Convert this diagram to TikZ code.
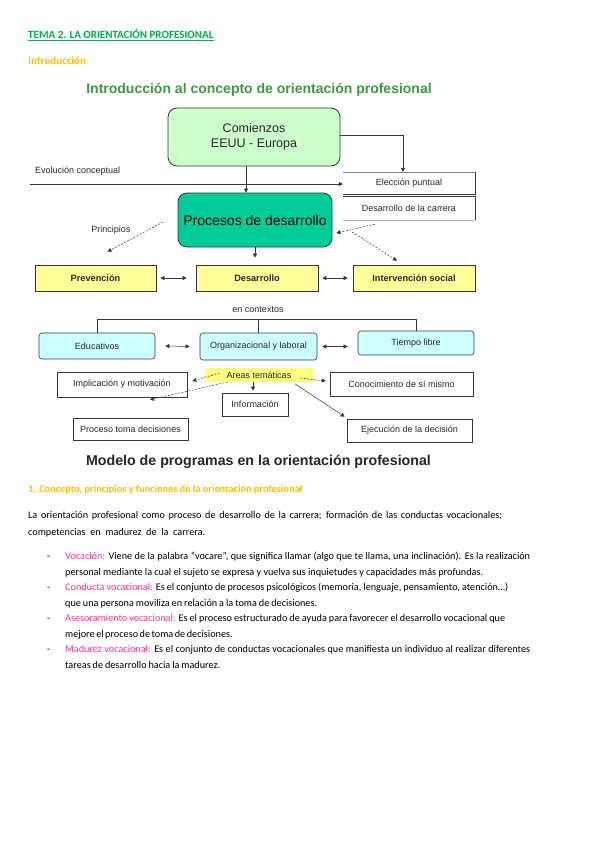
\documentclass[tikz,border=0pt]{standalone}
\usepackage{fontspec}
\setmainfont{Carlito}
\newfontfamily\arialf{Liberation Sans}
\usetikzlibrary{arrows.meta}
\definecolor{wgreen}{RGB}{0,176,80}
\definecolor{worange}{RGB}{255,192,0}
\definecolor{wpink}{RGB}{255,51,153}
\definecolor{dtitle}{RGB}{60,155,60}
\definecolor{lgreen}{RGB}{204,255,204}
\definecolor{procfill}{RGB}{0,204,153}
\definecolor{lyellow}{RGB}{255,255,153}
\definecolor{lcyan}{RGB}{204,255,255}
\definecolor{hyellow}{RGB}{255,255,128}
\definecolor{edgec}{RGB}{55,55,55}
\definecolor{dtext}{RGB}{40,40,40}
\tikzset{
  body/.style={font=\fontsize{10.2}{12}\selectfont, anchor=base west, inner sep=0pt, text=black},
  dg/.style={font=\arialf\fontsize{9}{10}\selectfont, text=dtext, inner sep=0pt},
  dgb/.style={font=\arialf\bfseries\fontsize{9.2}{10}\selectfont, text=dtext, inner sep=0pt},
  plainbox/.style={dg, draw=edgec, line width=0.6pt, fill=white},
  ybox/.style={dgb, draw=edgec, line width=0.6pt, fill=lyellow},
  cbox/.style={dg, draw=edgec, line width=0.6pt, fill=lcyan, rounded corners=3pt},
  arr/.style={-{Triangle[length=4pt,width=4pt]}, line width=0.5pt, draw=edgec},
  darr/.style={{Triangle[length=4pt,width=4pt]}-{Triangle[length=4pt,width=4pt]}, line width=0.5pt, draw=edgec},
  dsh/.style={dash pattern=on 2pt off 1.5pt}
}
\begin{document}
\begin{tikzpicture}[x=1pt,y=-1pt]
\useasboundingbox[fill=white] (0,0) rectangle (599,848);

% header
\node[body, font=\bfseries\fontsize{11}{13}\selectfont, text=wgreen] (hdr) at (28,38.5) {TEMA 2. LA ORIENTACIÓN PROFESIONAL};
\draw[wgreen, line width=0.6pt] ([yshift=-2pt]hdr.base west) -- ([yshift=-2pt]hdr.base east);
\node[body, font=\bfseries\fontsize{11}{13}\selectfont, text=worange] (intro) at (28,65) {Introducción};

% diagram title
\node[font=\arialf\bfseries\fontsize{14}{16}\selectfont, text=dtitle, inner sep=0pt] (t1) at (259,90) {Introducción al concepto de orientación profesional};

% top boxes
\node[dg, draw=edgec, line width=0.8pt, fill=lgreen, rounded corners=9pt, minimum width=172, minimum height=58, align=center, font=\arialf\fontsize{12.5}{15}\selectfont] (com) at (254,137) {Comienzos\\EEUU - Europa};
\node[dg, draw=edgec, line width=0.8pt, fill=procfill, rounded corners=9pt, minimum width=154, minimum height=54, font=\arialf\fontsize{14}{16}\selectfont, text=black] (proc) at (255,220) {Procesos de desarrollo};

\node[dg, minimum width=132, minimum height=22] (ele) at (409,183) {Elección puntual};
\draw[edgec!60, line width=0.5pt] (ele.north west) -- (ele.north east);
\draw[edgec, line width=0.7pt] (ele.north east) -- (ele.south east) -- (ele.south west);
\node[dg, minimum width=132, minimum height=23] (car) at (409,208.5) {Desarrollo de la carrera};
\draw[edgec, line width=0.7pt] (car.north west) -- (car.north east) -- (car.south east);
\draw[edgec!40, line width=0.5pt] (car.south east) -- (car.south west);

\node[dg, anchor=west] (evot) at (35,171) {Evolución conceptual};
\coordinate (evo) at (30,184);
\draw[arr] (evo) -- (ele.west |- evo);

\draw[arr] ([yshift=2pt]com.east) -| ([xshift=-6pt]ele.north);
\draw[arr] ([xshift=-8pt]com.south) -- ([xshift=-9pt]proc.north);

% yellow row
\node[ybox, minimum width=121, minimum height=26] (prev) at (95.5,278) {Prevención};
\node[ybox, minimum width=122, minimum height=26] (des) at (257,278) {Desarrollo};
\node[ybox, minimum width=122, minimum height=26] (int) at (414,278) {Intervención social};

\draw[darr] ([xshift=4pt]prev.east) -- ([xshift=-9pt]des.west);
\draw[darr] ([xshift=4pt]des.east) -- ([xshift=-5pt]int.west);
\draw[arr] (proc.south) -- ([xshift=-2pt,yshift=7pt]des.north);

\node[dg] (prin) at (111,230) {Principios};
\coordinate (p1) at (163,222);
\draw[arr, dsh] (p1) -- ([xshift=12pt,yshift=13pt]prev.north);

\draw[arr, dsh] ([xshift=-34pt,yshift=-4pt]car.south) -- ([xshift=4pt,yshift=-13pt]proc.east);
\coordinate (c1) at (352,232);
\draw[arr, dsh] (c1) -- ([xshift=-17pt,yshift=4pt]int.north);

% contexts
\node[dg] (enc) at (258,310) {en contextos};
\node[cbox, minimum width=116, minimum height=26] (edu) at (97,346) {Educativos};
\node[cbox, minimum width=117, minimum height=27] (org) at (258.5,346.5) {Organizacional y laboral};
\node[cbox, minimum width=116, minimum height=24] (tim) at (416,343) {Tiempo libre};
\coordinate (tr) at (259,319);
\draw[edgec, line width=0.6pt] (edu.north) -- (edu.north |- tr) -- (tim.north |- tr) -- (tim.north);
\draw[edgec, line width=0.6pt] (org.north) -- (org.north |- tr);
\draw[darr] ([xshift=10pt]edu.east) -- ([xshift=-10pt]org.west);
\draw[darr] ([xshift=5pt]org.east) -- ([xshift=-10pt]tim.west |- org.east);

% areas tematicas
\node[dg, fill=hyellow, minimum width=108, minimum height=14] (are) at (259,375) {Areas temáticas};
\node[plainbox, minimum width=130, minimum height=25] (imp) at (122,384.5) {Implicación y motivación};
\node[plainbox, minimum width=143, minimum height=24] (con) at (401.5,384) {Conocimiento de sí mismo};
\node[plainbox, minimum width=66, minimum height=23] (inf) at (255,404.5) {Información};
\node[plainbox, minimum width=115, minimum height=22] (ptd) at (130.5,429) {Proceso toma decisiones};
\node[plainbox, minimum width=125, minimum height=23] (eje) at (409.5,430.5) {Ejecución de la decisión};

\draw[arr, dsh] ([xshift=15pt,yshift=2pt]are.west) -- ([xshift=5pt,yshift=3.5pt]imp.east);
\draw[arr, dsh] ([xshift=23pt,yshift=-7pt]are.west) -- ([xshift=19.5pt,yshift=18pt]ptd.north);
\draw[arr, dsh] ([xshift=-13pt,yshift=-3pt]are.east) -- ([xshift=-4pt,yshift=3pt]con.west);
\draw[arr] ([xshift=-18pt,yshift=-9pt]are.east) -- ([xshift=-2pt,yshift=2pt]eje.north west);
\draw[arr] ([xshift=-6pt]are.south) -- ([xshift=-2pt,yshift=2pt]inf.north);

% second title
\node[font=\arialf\bfseries\fontsize{14.2}{16}\selectfont, text=black!85, inner sep=0pt] (t2) at (258.5,462) {Modelo de programas en la orientación profesional};

% section
\node[body, font=\bfseries\fontsize{10.3}{12}\selectfont, text=worange] (sec) at (28,492.5) {1. Concepto, principios y funciones de la orientación profesional};

\node[body] (pa1) at (28,518.5) {\makebox[474pt][s]{La orientación profesional como proceso de desarrollo de la carrera; formación de las conductas vocacionales;}};
\node[body] (pa2) at (28,535.5) {\makebox[177pt][s]{competencias en madurez de la carrera.}};

\foreach \yy/\nm in {559.5/d1,590.5/d2,621.5/d3,652.5/d4}{
  \node[body] (\nm) at (47,\yy) {-};
}
\node[body] (b1) at (65,559.5) {\makebox[465pt][s]{\textcolor{wpink}{Vocación:} Viene de la palabra “vocare”, que significa llamar (algo que te llama, una inclinación). Es la realización}};
\node[body] (b2) at (65,575.5) {\makebox[418pt][s]{personal mediante la cual el sujeto se expresa y vuelva sus inquietudes y capacidades más profundas.}};
\node[body] (b3) at (65,590.5) {\makebox[443pt][s]{\textcolor{wpink}{Conducta vocacional:} Es el conjunto de procesos psicológicos (memoria, lenguaje, pensamiento, atención…)}};
\node[body] (b4) at (65,606.5) {\makebox[252pt][s]{que una persona moviliza en relación a la toma de decisiones.}};
\node[body] (b5) at (65,621.5) {\makebox[440pt][s]{\textcolor{wpink}{Asesoramiento vocacional:} Es el proceso estructurado de ayuda para favorecer el desarrollo vocacional que}};
\node[body] (b6) at (65,637.5) {\makebox[160pt][s]{mejore el proceso de toma de decisiones.}};
\node[body] (b7) at (65,652.5) {\makebox[465pt][s]{\textcolor{wpink}{Madurez vocacional:} Es el conjunto de conductas vocacionales que manifiesta un individuo al realizar diferentes}};
\node[body] (b8) at (65,668.5) {\makebox[155pt][s]{tareas de desarrollo hacia la madurez.}};
\end{tikzpicture}
\end{document}
